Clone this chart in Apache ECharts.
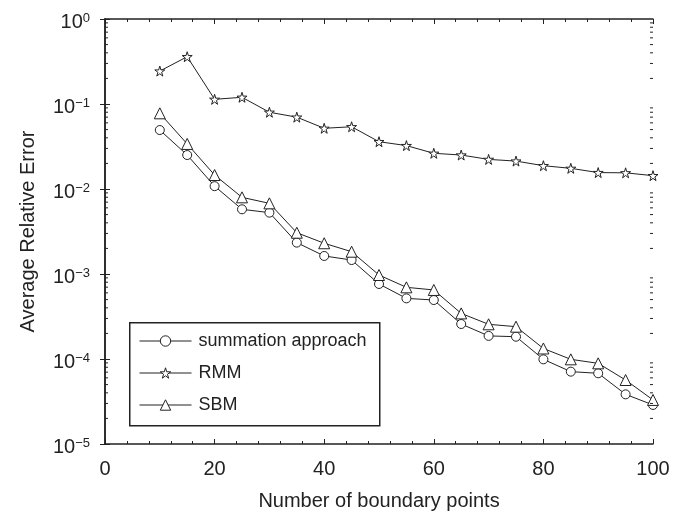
<!DOCTYPE html>
<html>
<head>
<meta charset="utf-8">
<script src="https://cdn.jsdelivr.net/npm/echarts@6/dist/echarts.min.js"></script>
<style>
  html, body { margin: 0; padding: 0; background: #fff; }
  #chart { width: 685px; height: 511px; }
</style>
</head>
<body>
<div id="chart"></div>
<script>
// data
const boundaryPoints = [10, 15, 20, 25, 30, 35, 40, 45, 50, 55, 60, 65, 70, 75, 80, 85, 90, 95, 100];
const summationError = [0.0494, 0.0251, 0.0108, 0.00577, 0.00527, 0.00234, 0.00163, 0.00146, 0.000763,
  0.000517, 0.000494, 0.000258, 0.000187, 0.000183, 0.0000991, 0.000071, 0.0000679, 0.0000384, 0.0000288];
const rmmError = [0.244, 0.36, 0.1135, 0.12, 0.080, 0.070, 0.0518, 0.054, 0.036,
  0.0324, 0.0263, 0.0251, 0.0223, 0.0213, 0.0188, 0.0175, 0.0156, 0.0155, 0.01435];
const sbmError = [0.0777, 0.0339, 0.0146, 0.00798, 0.00678, 0.00306, 0.0023, 0.00183, 0.000973,
  0.000697, 0.000649, 0.000344, 0.000256, 0.00024, 0.000133, 0.0000991, 0.0000889, 0.0000566, 0.000033];
const seriesNames = ["summation approach", "RMM", "SBM"];
const yDecades = [-5, -4, -3, -2, -1];
const minorMultipliers = [2, 3, 4, 5, 6, 7, 8, 9];

const ink = "#222";
const font = "Liberation Sans";
const starPath = "path://M50,0 L61,35 L98,35 L68,57 L79,91 L50,70 L21,91 L32,57 L2,35 L39,35 Z";

const minorTickValues = [];
yDecades.forEach((d) => {
  minorMultipliers.forEach((m) => minorTickValues.push(m * Math.pow(10, d)));
});

function zipXY(ys) {
  return boundaryPoints.map((x, i) => [x, ys[i]]);
}

function lineSeries(name, data, symbol, size) {
  return {
    name: name,
    type: "line",
    data: zipXY(data),
    symbol: symbol,
    symbolSize: size,
    showAllSymbol: true,
    lineStyle: { color: ink, width: 1 },
    itemStyle: { color: "#fff", borderColor: ink, borderWidth: 1 },
    emphasis: { disabled: true },
    z: 3,
  };
}

const chart = echarts.init(document.getElementById("chart"));

const frameLine = { show: true, lineStyle: { color: ink, width: 1.5 } };
const majorTick = { show: true, inside: true, length: 5, lineStyle: { color: ink } };
const minorTick = { show: true, splitNumber: 5, length: 3, lineStyle: { color: ink } };

chart.setOption({
  animation: false,
  backgroundColor: "#fff",
  textStyle: { fontFamily: font, color: ink },
  grid: { left: 105, right: 32, top: 19, bottom: 67, outerBoundsMode: "none", containLabel: false },
  xAxis: [
    {
      type: "value",
      min: 0,
      max: 100,
      interval: 20,
      name: "Number of boundary points",
      nameLocation: "middle",
      nameGap: 47,
      nameTextStyle: { fontSize: 20, color: ink, fontFamily: font },
      axisLine: frameLine,
      axisTick: majorTick,
      minorTick: minorTick,
      axisLabel: { fontSize: 20, color: ink, margin: 15, fontFamily: font },
      splitLine: { show: false },
    },
    {
      type: "value",
      position: "top",
      min: 0,
      max: 100,
      interval: 20,
      axisLine: frameLine,
      axisTick: majorTick,
      minorTick: minorTick,
      axisLabel: { show: false },
      splitLine: { show: false },
    },
  ],
  yAxis: [
    {
      type: "log",
      logBase: 10,
      min: 0.00001,
      max: 1,
      interval: 1,
      name: "Average Relative Error",
      nameLocation: "middle",
      nameGap: 67,
      nameTextStyle: { fontSize: 20, color: ink, fontFamily: font },
      axisLine: frameLine,
      axisTick: majorTick,
      axisLabel: {
        margin: 15,
        formatter: (v) => {
          const e = Math.round(Math.log10(v));
          return "{b|10}{s|" + String(e).replace("-", "\u2212") + "}";
        },
        rich: {
          b: { fontSize: 20, lineHeight: 20, color: ink, fontFamily: font, padding: [6, 0, 0, 0] },
          s: { fontSize: 13, lineHeight: 13, color: ink, fontFamily: font, verticalAlign: "top", padding: [3, 0, 0, 0] },
        },
      },
      splitLine: { show: false },
    },
    {
      type: "log",
      logBase: 10,
      min: 0.00001,
      max: 1,
      interval: 1,
      position: "right",
      axisLine: frameLine,
      axisTick: majorTick,
      axisLabel: { show: false },
      splitLine: { show: false },
    },
  ],
  legend: {
    data: seriesNames,
    orient: "vertical",
    left: 139,
    top: 332,
    padding: 0,
    itemWidth: 52,
    itemHeight: 13,
    itemGap: 14,
    selectedMode: false,
    lineStyle: { width: 1, color: ink },
    itemStyle: { color: "#fff", borderColor: ink, borderWidth: 1 },
    textStyle: { fontSize: 18, color: ink, fontFamily: font, padding: [0, 0, 0, 2] },
    z: 5,
  },
  graphic: [
    {
      type: "rect",
      left: 129,
      top: 322,
      shape: { width: 250, height: 103 },
      style: { fill: "#fff", stroke: ink, lineWidth: 1.5 },
      z: 4,
    },
  ],
  series: [
    lineSeries(seriesNames[0], summationError, "circle", 9),
    lineSeries(seriesNames[1], rmmError, starPath, 10),
    lineSeries(seriesNames[2], sbmError, "triangle", 11),
    {
      // minor log ticks on left and right frame
      type: "custom",
      silent: true,
      clip: false,
      z: 4,
      data: minorTickValues.map((v) => [0, v]),
      renderItem: (params, api) => {
        const v = api.value(1);
        const l = api.coord([0, v]);
        const r = api.coord([100, v]);
        return {
          type: "group",
          children: [
            { type: "line", shape: { x1: l[0], y1: l[1], x2: l[0] + 3, y2: l[1] }, style: { stroke: ink, lineWidth: 1 } },
            { type: "line", shape: { x1: r[0], y1: r[1], x2: r[0] - 3, y2: r[1] }, style: { stroke: ink, lineWidth: 1 } },
          ],
        };
      },
    },
  ],
});
</script>
</body>
</html>
